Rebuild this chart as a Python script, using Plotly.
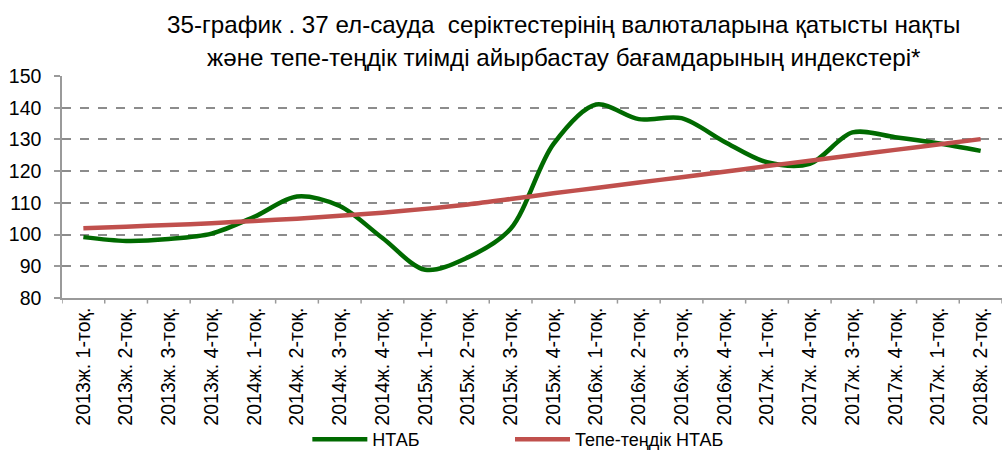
import plotly.graph_objects as go

# Quarter labels as printed on the category axis
quarters = [
    "2013ж. 1-тоқ.", "2013ж. 2-тоқ.", "2013ж. 3-тоқ.", "2013ж. 4-тоқ.",
    "2014ж. 1-тоқ.", "2014ж. 2-тоқ.", "2014ж. 3-тоқ.", "2014ж. 4-тоқ.",
    "2015ж. 1-тоқ.", "2015ж. 2-тоқ.", "2015ж. 3-тоқ.", "2015ж. 4-тоқ.",
    "2016ж. 1-тоқ.", "2016ж. 2-тоқ.", "2016ж. 3-тоқ.", "2016ж. 4-тоқ.",
    "2017ж. 1-тоқ.", "2017ж. 4-тоқ.", "2017ж. 3-тоқ.", "2017ж. 4-тоқ.",
    "2017ж. 1-тоқ.", "2018ж. 2-тоқ.",
]
# Unique internal keys so repeated labels keep their own slot
keys = list(range(len(quarters)))

ntab = [99.2, 98.0, 98.6, 100.3, 105.6, 112.0, 109.0, 98.9, 88.9, 92.8,
        101.8, 128.5, 141.0, 136.4, 136.7, 129.3, 122.8, 122.3, 132.2,
        130.7, 128.8, 126.4]
equilibrium = [102.0, 102.5, 103.0, 103.6, 104.3, 105.0, 105.9, 106.9,
               108.1, 109.5, 111.2, 113.0, 114.7, 116.4, 118.1, 119.8,
               121.6, 123.3, 125.0, 126.7, 128.4, 130.1]

y_ticks = [80, 90, 100, 110, 120, 130, 140, 150]

title_lines = [
    "35-график . 37 ел-сауда  серіктестерінің валюталарына қатысты нақты",
    "және тепе-теңдік тиімді айырбастау бағамдарының индекстері*",
]

font_family = "Liberation Sans, Arial, sans-serif"
title_family = "Liberation Sans Narrow, Liberation Sans, sans-serif"
axis_grey = "#9a9a9a"

fig = go.Figure()
fig.add_trace(go.Scatter(
    x=keys, y=ntab, name="НТАБ", mode="lines", legend="legend",
    line=dict(color="#006a00", width=4.5, shape="spline", smoothing=0.9),
))
fig.add_trace(go.Scatter(
    x=keys, y=equilibrium, name="Тепе-теңдік НТАБ", mode="lines", legend="legend2",
    line=dict(color="#c0504d", width=4.5, shape="spline", smoothing=0.9),
))

legend_style = dict(orientation="h", xanchor="left", y=-0.7207, yanchor="bottom",
                    font=dict(size=18, family=font_family), itemwidth=55,
                    bgcolor="rgba(0,0,0,0)")

fig.update_layout(
    width=1002, height=458,
    margin=dict(l=62, r=0, t=76, b=160, autoexpand=False),
    paper_bgcolor="white", plot_bgcolor="white",
    font=dict(family=font_family, color="#000000"),
    legend=dict(x=0.261, **legend_style),
    legend2=dict(x=0.4766, **legend_style),
    showlegend=True,
)

# Two-line heading, centred over the plot
for text, ypos in zip(title_lines, [1.234, 1.083]):
    fig.add_annotation(text=text, xref="paper", yref="paper",
                       x=0.534, y=ypos, xanchor="center", yanchor="middle",
                       showarrow=False, font=dict(size=24.2, family=title_family))

fig.update_xaxes(
    type="linear", range=[-0.5, len(keys) - 0.5], automargin=False,
    tickmode="array", tickvals=keys, ticktext=quarters,
    tickangle=-90, tickfont=dict(size=19.5, family=font_family),
    showgrid=False, zeroline=False,
    showline=True, linecolor=axis_grey, linewidth=1.5,
    ticks="",
)
# Boundary tick marks between categories
for k in range(len(keys) + 1):
    fig.add_shape(type="line", xref="x", yref="paper",
                  x0=k - 0.5, x1=k - 0.5, y0=0, y1=-0.025,
                  line=dict(color=axis_grey, width=1.5))

fig.update_yaxes(
    range=[80, 150], tickmode="array", tickvals=y_ticks, automargin=False,
    tickfont=dict(size=19.5, family=font_family), ticklabelstandoff=9,
    showgrid=True, gridcolor="#8c8c8c", griddash="dash", gridwidth=1.5,
    zeroline=False, showline=True, linecolor=axis_grey, linewidth=1.5,
    ticks="outside", ticklen=6, tickcolor=axis_grey, tickwidth=1.5,
)

fig.write_html("out.html")
